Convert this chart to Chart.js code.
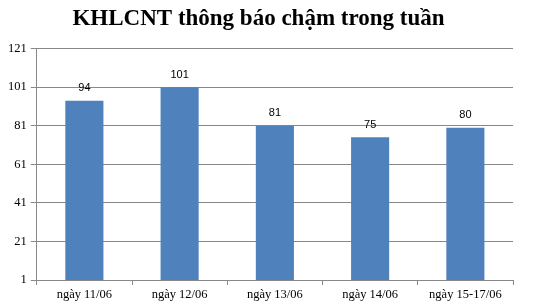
<!DOCTYPE html>
<html>
<head>
<meta charset="utf-8">
<script src="https://cdn.jsdelivr.net/npm/chart.js@4"></script>
<style>
  html, body { margin: 0; padding: 0; background: #fff; }
  #wrap { width: 543px; height: 308px; position: relative; }
</style>
</head>
<body>
<div id="wrap"><canvas id="chart"></canvas></div>
<script>
// Dữ liệu của biểu đồ
const ngay = ['ngày 11/06', 'ngày 12/06', 'ngày 13/06', 'ngày 14/06', 'ngày 15-17/06'];
const soLuong = [94, 101, 81, 75, 80];
const mocTrucY = [1, 21, 41, 61, 81, 101, 121];

// Vẽ số lên trên mỗi cột
const nhanTrenCot = {
    id: 'nhanTrenCot',
    afterDatasetsDraw(chart) {
        const ctx = chart.ctx;
        const meta = chart.getDatasetMeta(0);
        ctx.save();
        ctx.font = '11px "Liberation Sans", Arial, sans-serif';
        ctx.fillStyle = '#000';
        ctx.textAlign = 'center';
        ctx.textBaseline = 'bottom';
        meta.data.forEach((bar, i) => {
            ctx.fillText(String(soLuong[i]), bar.x, bar.y - 7);
        });
        ctx.restore();
    }
};

new Chart(document.getElementById('chart'), {
    type: 'bar',
    data: {
        labels: ngay,
        datasets: [{
            data: soLuong,
            backgroundColor: '#4F81BD',
            barPercentage: 0.4,
            categoryPercentage: 1
        }]
    },
    options: {
        responsive: true,
        maintainAspectRatio: false,
        animation: false,
        layout: { padding: { left: 4, right: 30, top: 0, bottom: 4 } },
        plugins: {
            legend: { display: false },
            tooltip: { enabled: false },
            title: {
                display: true,
                text: 'KHLCNT thông báo chậm trong tuần',
                color: '#000',
                font: { family: '"Liberation Serif", "Times New Roman", serif', size: 23, weight: 'bold' },
                padding: { top: 5, bottom: 16 }
            }
        },
        scales: {
            x: {
                grid: { display: true, drawOnChartArea: false, offset: true, color: '#888', tickLength: 5 },
                border: { color: '#888' },
                ticks: {
                    color: '#000',
                    font: { family: '"Liberation Serif", "Times New Roman", serif', size: 12.5 },
                    maxRotation: 0,
                    padding: 2
                }
            },
            y: {
                min: 1,
                max: 121,
                afterBuildTicks(axis) {
                    axis.ticks = mocTrucY.map(v => ({ value: v }));
                },
                grid: { color: '#888', tickLength: 6 },
                border: { color: '#888' },
                ticks: {
                    color: '#000',
                    font: { family: '"Liberation Serif", "Times New Roman", serif', size: 12.5 },
                    padding: 4
                }
            }
        }
    },
    plugins: [nhanTrenCot]
});
</script>
</body>
</html>
